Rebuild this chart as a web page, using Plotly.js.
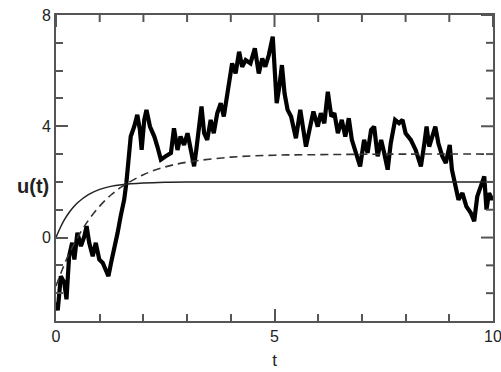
<!DOCTYPE html>
<html>
<head>
<meta charset="utf-8">
<script src="https://cdn.plot.ly/plotly-3.0.1.min.js"></script>
<style>html,body{margin:0;padding:0;background:#fff;overflow:hidden;}#chart{width:501px;height:372px;}</style>
</head>
<body>
<div id="chart"></div>
<script>
// Noisy sample path u(t)
const pathT = [0, 0.04, 0.11, 0.19, 0.24, 0.30, 0.37, 0.42, 0.49, 0.57, 0.65, 0.70, 0.76, 0.84, 0.91, 0.99, 1.07, 1.14, 1.20, 1.26, 1.33, 1.41, 1.48, 1.56, 1.61, 1.66, 1.71, 1.79, 1.86, 1.92, 1.96, 2.02, 2.07, 2.15, 2.25, 2.32, 2.40, 2.51, 2.63, 2.70, 2.78, 2.85, 2.93, 3.01, 3.08, 3.16, 3.21, 3.27, 3.33, 3.39, 3.46, 3.54, 3.61, 3.69, 3.77, 3.84, 3.92, 3.97, 4.03, 4.11, 4.19, 4.26, 4.34, 4.45, 4.55, 4.64, 4.72, 4.79, 4.87, 4.96, 5.00, 5.05, 5.11, 5.17, 5.23, 5.30, 5.38, 5.49, 5.59, 5.65, 5.72, 5.80, 5.89, 5.99, 6.06, 6.14, 6.22, 6.30, 6.37, 6.45, 6.54, 6.62, 6.70, 6.77, 6.85, 6.96, 7.05, 7.13, 7.21, 7.28, 7.36, 7.44, 7.51, 7.59, 7.66, 7.76, 7.85, 7.93, 8.00, 8.12, 8.23, 8.35, 8.43, 8.48, 8.54, 8.62, 8.68, 8.75, 8.84, 8.92, 9.01, 9.06, 9.13, 9.21, 9.30, 9.39, 9.49, 9.57, 9.64, 9.72, 9.80, 9.85, 9.91, 9.98, 10.0];
const pathU = [-2.33, -2.62, -1.39, -1.62, -2.22, -0.67, -0.19, -0.79, 0.17, -0.31, 0.05, 0.41, -0.19, -0.67, -0.19, -0.79, -0.91, -1.15, -1.39, -0.91, -0.43, 0.17, 0.77, 1.36, 1.96, 2.68, 3.63, 3.99, 4.41, 3.87, 3.15, 4.23, 4.59, 3.99, 3.63, 3.27, 2.80, 2.92, 3.04, 3.93, 3.15, 3.63, 3.33, 3.75, 3.15, 2.56, 3.15, 3.99, 4.71, 3.75, 3.51, 4.23, 3.75, 4.47, 4.83, 4.35, 5.18, 5.78, 6.26, 5.90, 6.68, 6.14, 6.38, 6.26, 6.80, 5.90, 6.44, 6.14, 6.56, 7.22, 6.14, 4.83, 5.42, 6.20, 5.18, 4.59, 4.35, 3.57, 4.59, 3.87, 3.27, 3.87, 4.53, 3.99, 4.47, 4.11, 5.24, 4.35, 4.47, 3.75, 4.23, 3.63, 4.29, 3.51, 3.15, 2.56, 3.51, 3.04, 3.87, 3.99, 2.92, 3.51, 3.04, 2.44, 3.39, 4.23, 4.11, 4.23, 3.75, 3.51, 3.15, 2.56, 3.39, 3.99, 3.27, 3.63, 3.99, 3.39, 2.92, 2.68, 3.33, 2.44, 1.84, 1.36, 1.60, 1.12, 0.89, 0.59, 1.48, 1.84, 2.20, 1.00, 1.60, 1.36, 1.45];

// Solid curve
const solidT = [0, 0.1, 0.2, 0.3, 0.4, 0.5, 0.75, 1.0, 1.25, 1.5, 2.0, 2.5, 3.0, 4.0, 6.0, 10.0];
const solidU = [0, 0.36, 0.66, 0.90, 1.10, 1.26, 1.55, 1.73, 1.84, 1.90, 1.96, 1.99, 2.0, 2.0, 2.0, 2.0];

// Dashed curve
const dashT = [0, 0.25, 0.5, 0.75, 1.0, 1.25, 1.5, 2.0, 2.5, 3.0, 4.0, 5.0, 6.0, 8.0, 10.0];
const dashU = [-1.74, -0.75, 0.02, 0.64, 1.13, 1.52, 1.82, 2.26, 2.54, 2.71, 2.89, 2.96, 2.98, 3.0, 3.0];

// Tick positions and labels
const xTickVals = [0, 5, 10];
const xTickText = ['0', '5', '10'];
const xMinorVals = [1, 2, 3, 4, 6, 7, 8, 9];
const yTickVals = [0, 4, 8];
const yTickText = ['0', '4', '8'];
const yMinorVals = [-2, -1, 1, 2, 3, 5, 6, 7];

const fontFam = '"Liberation Sans", Arial, sans-serif';
const axCol = '#555';
const MAJ = 12, MIN = 7;

const traces = [
  {x: pathT, y: pathU, mode: 'lines', line: {color: '#000', width: 4.2}, hoverinfo: 'skip'},
  {x: solidT, y: solidU, mode: 'lines', line: {color: '#222', width: 1.5, shape: 'spline'}, hoverinfo: 'skip'},
  {x: dashT, y: dashU, mode: 'lines', line: {color: '#333', width: 1.6, dash: '8px,5px', shape: 'spline'}, hoverinfo: 'skip'}
];

// Mirrored tick marks on the top and right frame edges (placed through the axes' own scales)
const shapes = [];
function topTick(v, len) {
  shapes.push({type: 'line', xref: 'x', yref: 'y domain', ysizemode: 'pixel', yanchor: 1,
    x0: v, x1: v, y0: 0, y1: -len, line: {color: axCol, width: 2}});
}
function rightTick(v, len) {
  shapes.push({type: 'line', yref: 'y', xref: 'x domain', xsizemode: 'pixel', xanchor: 1,
    y0: v, y1: v, x0: 0, x1: -len, line: {color: axCol, width: 2}});
}
xTickVals.forEach(v => topTick(v, MAJ));
xMinorVals.forEach(v => topTick(v, MIN));
yTickVals.forEach(v => rightTick(v, MAJ));
yMinorVals.forEach(v => rightTick(v, MIN));

const tickCommon = {ticks: 'inside', ticklen: MAJ, tickwidth: 2, tickcolor: axCol, showgrid: false, zeroline: false};
const minorCommon = {ticks: 'inside', dtick: 1, ticklen: MIN, tickwidth: 2, tickcolor: axCol, showgrid: false};

const layout = {
  width: 501, height: 372,
  margin: {l: 56, r: 8, t: 15, b: 51},
  paper_bgcolor: '#fff', plot_bgcolor: '#fff',
  showlegend: false,
  shapes: shapes,
  xaxis: Object.assign({}, tickCommon, {
    showline: true, linecolor: axCol, linewidth: 2, mirror: true,
    range: [0, 10], tickmode: 'array', tickvals: xTickVals, ticktext: xTickText,
    ticklabeloverflow: 'allow',
    tickfont: {family: fontFam, size: 16, color: '#222'},
    minor: Object.assign({}, minorCommon),
    title: {text: 't', font: {family: fontFam, size: 17, color: '#222'}, standoff: 10}
  }),
  yaxis: Object.assign({}, tickCommon, {
    showline: true, linecolor: axCol, linewidth: 2, mirror: true,
    range: [-3, 8], tickmode: 'array', tickvals: yTickVals, ticktext: yTickText,
    ticklabeloverflow: 'allow',
    tickfont: {family: fontFam, size: 16, color: '#222'},
    minor: Object.assign({}, minorCommon)
  }),
  annotations: [{
    text: '<b>u(t)</b>', xref: 'paper', yref: 'y', x: 0, y: 1.85, xanchor: 'right', yanchor: 'middle',
    xshift: -5, showarrow: false, font: {family: fontFam, size: 20, color: '#222'}
  }]
};

Plotly.newPlot('chart', traces, layout, {displayModeBar: false, staticPlot: true});
</script>
</body>
</html>
